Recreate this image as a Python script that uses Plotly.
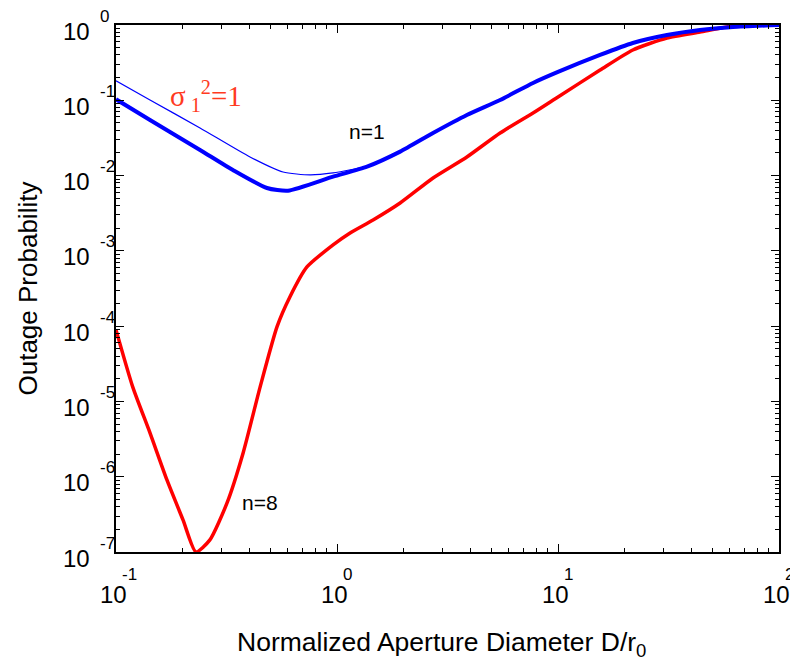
import numpy as np
import plotly.graph_objects as go

# n=1 (thick blue)
x_n1 = [0.1, 0.1425, 0.24, 0.338, 0.482, 0.6, 0.96, 1.367, 1.93, 2.72, 3.87, 5.47, 7.71,
        10, 15.5, 21.8, 31.1, 43.9, 61.9, 100]
y_n1 = [0.103, 0.0547, 0.0219, 0.01186, 0.00684, 0.0063, 0.00967, 0.01313, 0.0208, 0.0368,
        0.0638, 0.101, 0.170, 0.238, 0.400, 0.577, 0.736, 0.859, 0.94, 1.0]

# sigma_1^2 = 1 (thin blue)
x_s1 = [0.1, 0.1425, 0.24, 0.404, 0.570, 0.755, 0.96, 1.27, 1.367]
y_s1 = [0.182, 0.101, 0.0429, 0.01766, 0.01116, 0.0102, 0.01083, 0.01262, 0.01313]

# n=8 (red)
x_n8 = [0.1, 0.119, 0.1425, 0.170, 0.201, 0.230, 0.266, 0.318, 0.376, 0.449, 0.535, 0.612,
        0.731, 0.96, 1.146, 1.456, 1.93, 2.72, 3.87, 5.47, 7.71, 10, 15.5, 21.8, 31.1,
        43.9, 61.9, 100]
y_n8 = [8.9e-5, 1.56e-5, 3.82e-6, 9.07e-7, 2.67e-7, 1.0e-7, 1.45e-7, 4.49e-7, 2.07e-6,
        1.56e-5, 9.77e-5, 2.44e-4, 6.11e-4, 1.2e-3, 1.73e-3, 2.57e-3, 4.32e-3, 9.29e-3,
        0.01766, 0.0368, 0.0678, 0.1106, 0.252, 0.466, 0.672, 0.807, 0.97, 1.0]

x_tick_vals = [0.1, 1, 10, 100]
x_tick_exps = ["-1", "0", "1", "2"]
y_tick_vals = [1, 0.1, 0.01, 1e-3, 1e-4, 1e-5, 1e-6, 1e-7]
y_tick_exps = ["0", "-1", "-2", "-3", "-4", "-5", "-6", "-7"]

fig = go.Figure()
fig.add_trace(go.Scatter(x=x_s1, y=y_s1, mode="lines",
                         line=dict(color="#0000ff", width=1.2, shape="spline", smoothing=0.6),
                         cliponaxis=False, showlegend=False))
fig.add_trace(go.Scatter(x=x_n8, y=y_n8, mode="lines",
                         line=dict(color="#ff0000", width=3.5, shape="spline", smoothing=0.6),
                         cliponaxis=False, showlegend=False))
fig.add_trace(go.Scatter(x=x_n1, y=y_n1, mode="lines",
                         line=dict(color="#0000ff", width=4, shape="spline", smoothing=0.6),
                         cliponaxis=False, showlegend=False))

FONT = "Liberation Sans, Arial, sans-serif"
ann = []
for v, e in zip(x_tick_vals, x_tick_exps):
    ann.append(dict(x=np.log10(v), y=0, xref="x", yref="paper", text="10", showarrow=False,
                    xanchor="center", yanchor="middle", xshift=-3, yshift=-42,
                    font=dict(family=FONT, size=24, color="black")))
    ann.append(dict(x=np.log10(v), y=0, xref="x", yref="paper", text=e, showarrow=False,
                    xanchor="left", yanchor="middle", xshift=4, yshift=-22,
                    font=dict(family=FONT, size=17, color="black")))
for v, e in zip(y_tick_vals, y_tick_exps):
    ann.append(dict(x=0, y=np.log10(v), xref="paper", yref="y", text="10", showarrow=False,
                    xanchor="right", yanchor="middle", xshift=-24, yshift=-6,
                    font=dict(family=FONT, size=24, color="black")))
    ann.append(dict(x=0, y=np.log10(v), xref="paper", yref="y", text=e, showarrow=False,
                    xanchor="left", yanchor="middle", xshift=-18, yshift=9,
                    font=dict(family=FONT, size=17, color="black")))

# axis titles
ann.append(dict(x=0.5, y=0, xref="paper", yref="paper", text="Normalized Aperture Diameter D/r<sub>0</sub>",
                showarrow=False, xanchor="center", yanchor="middle", xshift=-6, yshift=-92,
                font=dict(family=FONT, size=26.5, color="black")))
ann.append(dict(x=0, y=0.5, xref="paper", yref="paper", text="Outage Probability",
                showarrow=False, xanchor="center", yanchor="middle", xshift=-89, yshift=0,
                textangle=-90, font=dict(family=FONT, size=26, color="black")))

# curve labels
ann.append(dict(x=np.log10(1.37), y=np.log10(0.039), xref="x", yref="y", text="n=1",
                showarrow=False, xanchor="center", yanchor="middle",
                font=dict(family=FONT, size=21, color="black")))
ann.append(dict(x=np.log10(0.449), y=np.log10(4.5e-7), xref="x", yref="y", text="n=8",
                showarrow=False, xanchor="center", yanchor="middle",
                font=dict(family=FONT, size=21, color="black")))
ann.append(dict(x=np.log10(0.172), y=np.log10(0.115), xref="x", yref="y",
                text="σ<sub> 1</sub><sup>2</sup>=1",
                showarrow=False, xanchor="left", yanchor="middle",
                font=dict(family="Liberation Serif, Times New Roman, serif", size=29,
                          color="#ff3b1f")))

axis_common = dict(type="log", showgrid=False, zeroline=False, showline=True,
                   linecolor="black", linewidth=1.5, mirror="allticks", ticks="inside",
                   ticklen=8, tickwidth=1, tickcolor="black", showticklabels=False,
                   dtick=1, automargin=False,
                   minor=dict(ticks="inside", ticklen=4, tickwidth=1, tickcolor="black",
                              showgrid=False))

# page body adds an 8px offset, so the figure is sized to sit inside the window
fig.update_layout(
    width=790, height=655,
    margin=dict(l=108, r=19, t=17, b=111, autoexpand=False),
    paper_bgcolor="white", plot_bgcolor="white",
    xaxis=dict(range=[-1, 2], **axis_common),
    yaxis=dict(range=[-7, 0], **axis_common),
    annotations=ann,
)

fig.write_html("out.html")
